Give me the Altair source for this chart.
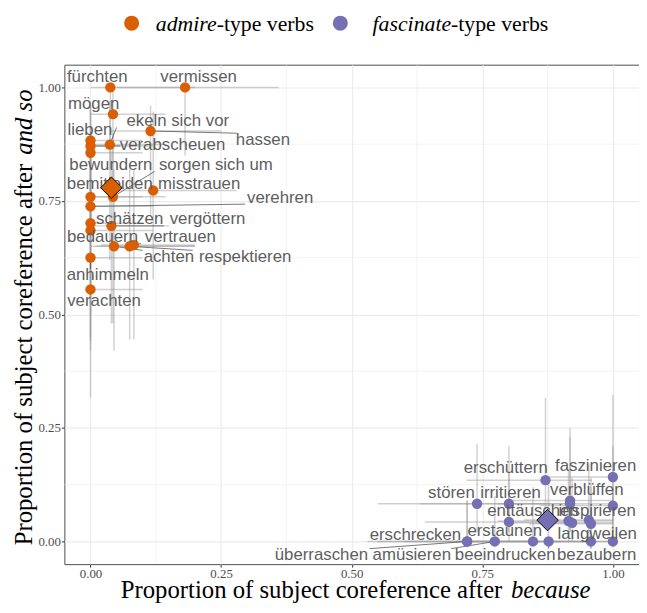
import altair as alt
import pandas as pd
import numpy as np

# ---------------- data ----------------
adm_verb = ["fürchten", "vermissen", "mögen", "hassen", "lieben", "verabscheuen",
            "bewundern", "ekeln sich vor", "sorgen sich um", "bemitleiden", "misstrauen",
            "verehren", "schätzen", "vergöttern", "bedauern", "vertrauen", "achten",
            "respektieren", "anhimmeln", "verachten"]
adm_x = [0.038, 0.181, 0.043, 0.115, 0.0, 0.0, 0.0, 0.037, 0.043, 0.0, 0.120,
         0.0, 0.0, 0.040, 0.0, 0.083, 0.045, 0.075, 0.0, 0.0]
adm_y = [1.000, 1.000, 0.941, 0.904, 0.883, 0.871, 0.856, 0.874, 0.759, 0.759, 0.773,
         0.738, 0.701, 0.695, 0.685, 0.653, 0.650, 0.650, 0.625, 0.555]
adm_xlo = [0.0, 0.05, 0.0, 0.04, 0.0, 0.0, 0.0, 0.0, 0.0, 0.0, 0.03,
           0.0, 0.0, 0.0, 0.0, 0.02, 0.0, 0.01, 0.0, 0.0]
adm_xhi = [0.20, 0.36, 0.144, 0.25, 0.10, 0.12, 0.10, 0.14, 0.144, 0.10, 0.28,
           0.12, 0.10, 0.15, 0.12, 0.20, 0.20, 0.20, 0.10, 0.10]
adm_ylo = [0.82, 0.85, 0.76, 0.72, 0.70, 0.68, 0.66, 0.62, 0.48, 0.52, 0.577,
           0.50, 0.45, 0.48, 0.44, 0.445, 0.42, 0.445, 0.42, 0.317]
adm_yhi = [1.0, 1.0, 1.0, 0.96, 0.96, 0.96, 0.95, 0.97, 0.90, 0.90, 0.947,
           0.88, 0.87, 0.86, 0.86, 0.82, 0.82, 0.82, 0.80, 0.76]
adm_lx = [0.013, 0.207, 0.006, 0.330, -0.001, 0.157, 0.039, 0.167, 0.240, 0.037, 0.208,
          0.363, 0.075, 0.224, 0.023, 0.172, 0.150, 0.296, 0.033, 0.026]
adm_ly = [1.022, 1.022, 0.963, 0.885, 0.907, 0.874, 0.829, 0.926, 0.829, 0.787, 0.787,
          0.757, 0.711, 0.709, 0.670, 0.670, 0.627, 0.627, 0.586, 0.529]

fas_verb = ["erschüttern", "faszinieren", "verblüffen", "", "stören", "irritieren",
            "inspirieren", "enttäuschen", "", "", "", "langweilen", "erschrecken",
            "überraschen", "amüsieren", "erstaunen", "beeindrucken", "bezaubern", ""]
fas_x = [0.871, 1.000, 0.918, 0.918, 0.740, 0.801, 1.000, 0.801, 0.915, 0.922, 0.954,
         0.958, 0.721, 0.721, 0.774, 0.847, 0.877, 0.958, 1.000]
fas_y = [0.135, 0.142, 0.090, 0.083, 0.083, 0.083, 0.079, 0.043, 0.045, 0.041, 0.047,
         0.039, 0.000, 0.000, 0.000, 0.000, 0.000, 0.000, 0.000]
fas_xlo = [0.72, 0.87, 0.80, 0.78, 0.55, 0.63, 0.86, 0.64, 0.78, 0.80, 0.83,
           0.84, 0.53, 0.55, 0.60, 0.70, 0.72, 0.84, 0.88]
fas_xhi = [0.96, 1.0, 1.0, 0.99, 0.88, 0.92, 1.0, 0.92, 1.0, 1.0, 1.0,
           1.0, 0.86, 0.86, 0.90, 0.95, 0.97, 1.0, 1.0]
fas_ylo = [0.04, 0.04, 0.02, 0.02, 0.02, 0.02, 0.02, 0.0, 0.0, 0.0, 0.0,
           0.0, 0.0, 0.0, 0.0, 0.0, 0.0, 0.0, 0.0]
fas_yhi = [0.316, 0.323, 0.23, 0.25, 0.215, 0.21, 0.21, 0.15, 0.16, 0.14, 0.17,
           0.14, 0.09, 0.09, 0.10, 0.12, 0.13, 0.12, 0.12]
fas_lx = [0.795, 0.967, 0.950, None, 0.691, 0.804, 0.970, 0.847, None, None, None,
          0.970, 0.622, 0.442, 0.615, 0.793, 0.794, 0.969, None]
fas_ly = [0.161, 0.165, 0.113, None, 0.106, 0.106, 0.067, 0.067, None, None, None,
          0.017, 0.013, -0.030, -0.030, 0.022, -0.030, -0.030, None]

groups = ["admire", "fascinate"]
group_colors = ["#D95F02", "#7570B3"]
mean_x = [0.040, 0.875]
mean_y = [0.779, 0.047]

major_breaks = [0.0, 0.25, 0.5, 0.75, 1.0]
minor_breaks = [0.125, 0.375, 0.625, 0.875]

# ---------------- layout ----------------
W, H = 581, 505
DOM = [-0.05, 1.05]
FS = 17
kx = W / (DOM[1] - DOM[0])
ky = H / (DOM[1] - DOM[0])

adm = pd.DataFrame(dict(verb=adm_verb, x=adm_x, y=adm_y, xlo=adm_xlo, xhi=adm_xhi,
                        ylo=adm_ylo, yhi=adm_yhi, lx=adm_lx, ly=adm_ly))
adm["group"] = "admire"
fas = pd.DataFrame(dict(verb=fas_verb, x=fas_x, y=fas_y, xlo=fas_xlo, xhi=fas_xhi,
                        ylo=fas_ylo, yhi=fas_yhi, lx=fas_lx, ly=fas_ly))
fas["group"] = "fascinate"
df = pd.concat([adm, fas], ignore_index=True)

lab = df[df["verb"] != ""].copy()

# segments from point to nearest edge of the label box (ggrepel style)
segs = []
for _, r in lab.iterrows():
    dxp = (r.x - r.lx) * kx
    dyp = -(r.y - r.ly) * ky
    hw = len(r.verb) * FS * 0.26
    hh = FS * 0.38
    cx = float(np.clip(dxp, -hw, hw))
    cy = float(np.clip(dyp, -hh, hh))
    d = float(np.hypot(dxp - cx, dyp - cy))
    if d > 7:
        segs.append(dict(x=r.x, y=r.y, ex=r.lx + cx / kx, ey=r.ly - cy / ky))
seg_df = pd.DataFrame(segs)

means = pd.DataFrame(dict(group=groups, x=mean_x, y=mean_y))

xs = alt.Scale(domain=DOM, nice=False, zero=False)
ys = alt.Scale(domain=DOM, nice=False, zero=False)
cs = alt.Scale(domain=groups, range=group_colors)

X = lambda f: alt.X(f, type="quantitative", scale=xs,
                    axis=alt.Axis(values=major_breaks, format=".2f", title=None))
Y = lambda f: alt.Y(f, type="quantitative", scale=ys,
                    axis=alt.Axis(values=major_breaks, format=".2f", title=None))

minor_df = pd.DataFrame(dict(v=minor_breaks))
minor_v = alt.Chart(minor_df).mark_rule(color="#ebebeb", strokeWidth=0.6).encode(x=X("v"))
minor_h = alt.Chart(minor_df).mark_rule(color="#ebebeb", strokeWidth=0.6).encode(y=Y("v"))

eb_h = alt.Chart(df).mark_rule(color="#9a9a9a", opacity=0.45, strokeWidth=1.5).encode(
    x=X("xlo"), x2="xhi", y=Y("y"))
eb_v = alt.Chart(df).mark_rule(color="#9a9a9a", opacity=0.45, strokeWidth=1.5).encode(
    x=X("x"), y=Y("ylo"), y2="yhi")

seg_layer = alt.Chart(seg_df).mark_rule(color="#555555", strokeWidth=0.8).encode(
    x=X("x"), y=Y("y"), x2="ex", y2="ey")

pts = alt.Chart(df).mark_circle(size=110, opacity=1).encode(
    x=X("x"), y=Y("y"), color=alt.Color("group:N", scale=cs, legend=None))

labels = alt.Chart(lab).mark_text(font="Liberation Sans", fontSize=FS, color="#5e5e5e",
                                  align="center", baseline="middle").encode(
    x=X("lx"), y=Y("ly"), text="verb:N")

diam = alt.Chart(means).mark_point(shape="diamond", filled=True, size=470, opacity=1,
                                   stroke="black", strokeWidth=1).encode(
    x=X("x"), y=Y("y"), fill=alt.Fill("group:N", scale=cs, legend=None))

one = pd.DataFrame(dict(k=[0]))


def txt(s, x, y, size, italic=False, align="left", angle=0, baseline="alphabetic"):
    kw = dict(text=s, font="Liberation Serif", fontSize=size, color="black",
              align=align, baseline=baseline)
    if italic:
        kw["fontStyle"] = "italic"
    if angle:
        kw["angle"] = angle
    return alt.Chart(one).mark_text(**kw).encode(x=alt.value(x), y=alt.value(y))


# legend (custom, to allow partial italics)
leg_pts = alt.Chart(pd.DataFrame(dict(group=groups, px=[68, 279]))).mark_circle(
    size=230, opacity=1).encode(x=alt.X("px:Q", scale=None), y=alt.value(-42),
                                color=alt.Color("group:N", scale=cs, legend=None))
legend = [leg_pts,
          txt("admire", 154, -34, 22, italic=True, align="right"),
          txt("-type verbs", 154, -34, 22),
          txt("fascinate", 391, -34, 22, italic=True, align="right"),
          txt("-type verbs", 391, -34, 22)]

titles = [txt("Proportion of subject coreference after", 57, 539, 25, align="left"),
          txt("because", 532, 539, 25, italic=True, align="right"),
          txt("Proportion of subject coreference after", -33, 486, 25, align="left", angle=270),
          txt("and so", -33, 25, 25, italic=True, align="right", angle=270)]

chart = alt.layer(minor_v, minor_h, eb_h, eb_v, seg_layer, pts, labels, diam,
                  *legend, *titles).properties(
    width=W, height=H,
    padding={"left": 57, "top": 54, "right": 0, "bottom": 38},
    autosize=alt.AutoSizeParams(type="none"),
).configure_view(stroke="#4d4d4d", strokeWidth=1).configure_axis(
    domain=False, grid=True, gridColor="#ebebeb", gridWidth=1.1,
    tickColor="#333333", tickSize=3, labelFont="Liberation Serif", labelFontSize=13,
    labelColor="#4d4d4d", labelPadding=1,
)

chart.save("out.html", embed_options={"renderer": "svg", "actions": False})
